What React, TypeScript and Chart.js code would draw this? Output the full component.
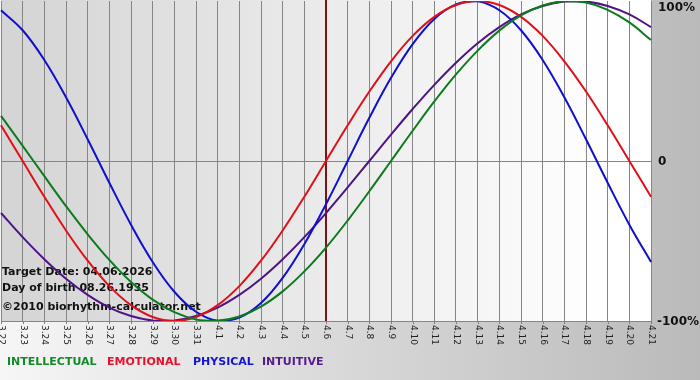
import React, { useEffect, useRef } from "react";
import { Chart, registerables } from "chart.js";

Chart.register(...registerables);

const dayLabels = [
  "3.22", "3.23", "3.24", "3.25", "3.26", "3.27", "3.28", "3.29", "3.30", "3.31",
  "4.1", "4.2", "4.3", "4.4", "4.5", "4.6", "4.7", "4.8", "4.9", "4.10",
  "4.11", "4.12", "4.13", "4.14", "4.15", "4.16", "4.17", "4.18", "4.19", "4.20", "4.21",
];

const intellectual = [
  28.2, 9.5, -9.5, -28.2, -45.8, -61.8, -75.6, -86.6, -94.5, -99.0,
  -99.9, -97.2, -91.0, -81.5, -69.0, -54.1, -37.2, -18.9, 0, 18.9,
  37.2, 54.1, 69.0, 81.5, 91.0, 97.2, 99.9, 99.0, 94.5, 86.6, 75.6,
];

const emotional = [
  22.3, 0, -22.3, -43.4, -62.3, -78.2, -90.1, -97.5, -100, -97.5,
  -90.1, -78.2, -62.3, -43.4, -22.3, 0, 22.3, 43.4, 62.3, 78.2,
  90.1, 97.5, 100, 97.5, 90.1, 78.2, 62.3, 43.4, 22.3, 0, -22.3,
];

const physical = [
  94.2, 81.7, 63.1, 39.8, 13.6, -13.6, -39.8, -63.1, -81.7, -94.2,
  -99.8, -97.9, -88.8, -73.1, -52.0, -27.0, 0, 27.0, 52.0, 73.1,
  88.8, 97.9, 99.8, 94.2, 81.7, 63.1, 39.8, 13.6, -13.6, -39.8, -63.1,
];

const intuitive = [
  -32.5, -47.6, -61.4, -73.6, -83.7, -91.6, -96.9, -99.7, -99.7, -96.9,
  -91.6, -83.7, -73.6, -61.4, -47.6, -32.5, -16.5, 0, 16.5, 32.5,
  47.6, 61.4, 73.6, 83.7, 91.6, 96.9, 99.7, 99.7, 96.9, 91.6, 83.7,
];

const yTickValues = [100, 0, -100];
const targetIndex = 15;
const infoLines = [
  "Target Date: 04.06.2026",
  "Day of birth 08.26.1935",
  "\u00A92010 biorhythm-calculator.net",
];
const legendItems = [
  { text: "INTELLECTUAL", color: "#138a2a", x: 7 },
  { text: "EMOTIONAL", color: "#e8102a", x: 107 },
  { text: "PHYSICAL", color: "#1515d0", x: 193 },
  { text: "INTUITIVE", color: "#561a8e", x: 262 },
];

const FONT = "'DejaVu Sans', Verdana, sans-serif";

const decorPlugin = {
  id: "decor",
  beforeDraw(chart: any) {
    const { ctx, width, height, chartArea } = chart;
    ctx.save();
    const g = ctx.createLinearGradient(0, 0, width, 0);
    g.addColorStop(0, "#f6f6f6");
    g.addColorStop(1, "#bababa");
    ctx.fillStyle = g;
    ctx.fillRect(0, 0, width, height);
    const pg = ctx.createLinearGradient(chartArea.left, 0, chartArea.right, 0);
    pg.addColorStop(0, "#d4d4d4");
    pg.addColorStop(0.93, "#ffffff");
    pg.addColorStop(1, "#ffffff");
    ctx.fillStyle = pg;
    ctx.fillRect(chartArea.left, 0, chartArea.right - chartArea.left, chartArea.bottom);
    ctx.restore();
  },
  beforeDatasetsDraw(chart: any) {
    const { ctx, chartArea, scales } = chart;
    ctx.save();
    const tx = Math.round(scales.x.getPixelForValue(targetIndex));
    ctx.strokeStyle = "#7a1414";
    ctx.lineWidth = 2;
    ctx.beginPath();
    ctx.moveTo(tx, 0);
    ctx.lineTo(tx, chartArea.bottom);
    ctx.stroke();
    ctx.fillStyle = "#111111";
    ctx.font = "bold 11px " + FONT;
    ctx.textAlign = "left";
    ctx.textBaseline = "middle";
    const ys = [272, 288, 307];
    infoLines.forEach((t, i) => ctx.fillText(t, 2, ys[i]));
    ctx.restore();
  },
  afterDraw(chart: any) {
    const { ctx, chartArea, scales } = chart;
    ctx.save();
    ctx.strokeStyle = "#808080";
    ctx.lineWidth = 1;
    ctx.fillStyle = "#222222";
    ctx.font = "9px " + FONT;
    ctx.textAlign = "left";
    ctx.textBaseline = "middle";
    dayLabels.forEach((lab, i) => {
      const x = Math.round(scales.x.getPixelForValue(i)) + 0.5;
      ctx.beginPath();
      ctx.moveTo(x, chartArea.bottom);
      ctx.lineTo(x, chartArea.bottom + 3);
      ctx.stroke();
      ctx.save();
      ctx.translate(x, chartArea.bottom + 4);
      ctx.rotate(Math.PI / 2);
      ctx.fillText(lab, 0, 0);
      ctx.restore();
    });
    ctx.fillStyle = "#111111";
    ctx.font = "bold 12px " + FONT;
    yTickValues.forEach((v) => {
      const y = Math.max(8, scales.y.getPixelForValue(v) + 1);
      const t = v === 0 ? "0" : v + "%";
      ctx.fillText(t, v < 0 ? 657 : 658, y);
    });
    ctx.font = "bold 11px " + FONT;
    legendItems.forEach((it) => {
      ctx.fillStyle = it.color;
      ctx.fillText(it.text, it.x, 362);
    });
    ctx.restore();
  },
};

export default function App() {
  const ref = useRef<HTMLCanvasElement | null>(null);
  useEffect(() => {
    if (!ref.current) return;
    const chart = new Chart(ref.current, {
      type: "line",
      data: {
        labels: dayLabels,
        datasets: [
          { label: "INTELLECTUAL", data: intellectual, borderColor: "#0d7a1e" },
          { label: "EMOTIONAL", data: emotional, borderColor: "#e01018" },
          { label: "PHYSICAL", data: physical, borderColor: "#1010cc" },
          { label: "INTUITIVE", data: intuitive, borderColor: "#4e1486" },
        ].map((d) => ({
          ...d,
          borderWidth: 2,
          pointRadius: 0,
          tension: 0.4,
          fill: false,
        })),
      },
      options: {
        animation: false,
        responsive: false,
        devicePixelRatio: 1,
        layout: { padding: { left: 1, right: 49, top: 1, bottom: 59 } },
        plugins: { legend: { display: false }, tooltip: { enabled: false } },
        scales: {
          x: {
            type: "category",
            offset: false,
            grid: { color: "#858585", drawTicks: false, lineWidth: 1 },
            border: { display: false },
            ticks: { display: false },
            afterFit: (s: any) => {
              s.height = 0;
            },
          },
          y: {
            min: -100,
            max: 100,
            position: "right",
            afterBuildTicks: (s: any) => {
              s.ticks = yTickValues.map((v) => ({ value: v }));
            },
            grid: {
              drawTicks: false,
              color: (c: any) => (c.tick && c.tick.value === 100 ? "rgba(0,0,0,0)" : "#858585"),
            },
            border: { display: false },
            ticks: { display: false },
            afterFit: (s: any) => {
              s.width = 0;
            },
          },
        },
      },
      plugins: [decorPlugin],
    });
    return () => chart.destroy();
  }, []);
  return (
    <div style={{ position: "fixed", left: 0, top: 0, width: 700, height: 380 }}>
      <canvas ref={ref} width={700} height={380} style={{ display: "block" }} />
    </div>
  );
}
